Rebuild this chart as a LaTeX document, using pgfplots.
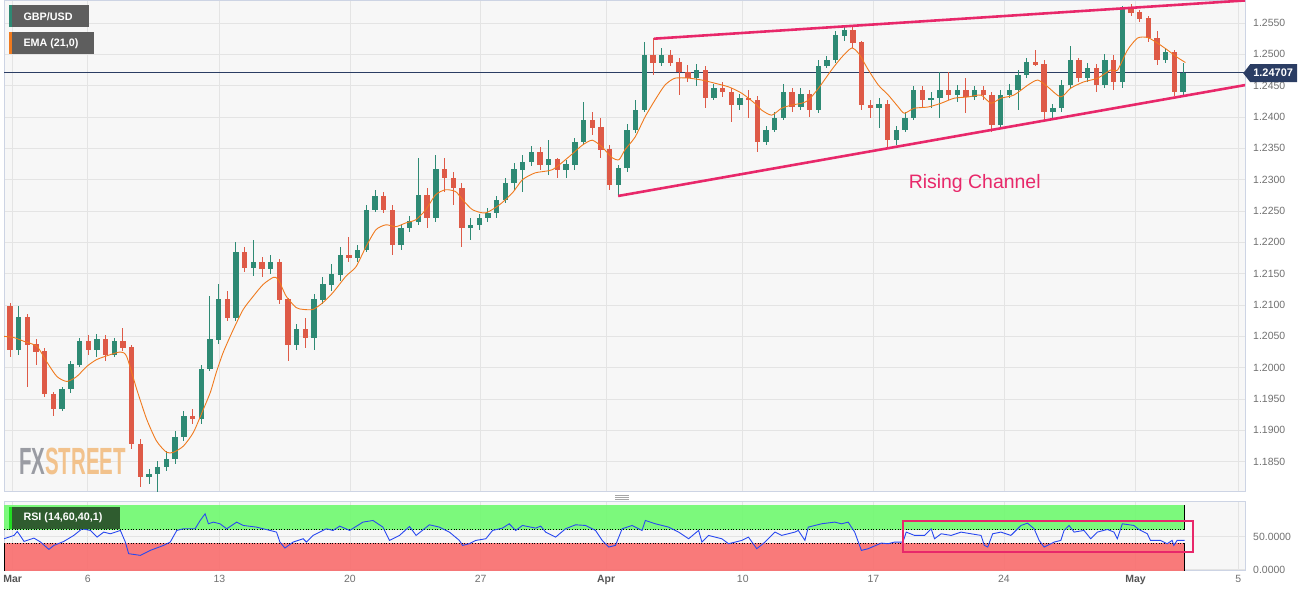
\documentclass[border=0pt]{standalone}
\usepackage{fontspec}
\setmainfont{Liberation Sans}
\usepackage{pgfplots}
\usepackage{pgfplotstable}
\pgfplotsset{compat=1.18}

\definecolor{bgpanel}{HTML}{F7F7F7}
\definecolor{gridc}{HTML}{E4E4E4}
\definecolor{framec}{HTML}{CDD4E4}
\definecolor{upc}{HTML}{2E8A74}
\definecolor{dnc}{HTML}{DE5A47}
\definecolor{emac}{HTML}{F07A1E}
\definecolor{chanc}{HTML}{E8286A}
\definecolor{navyc}{HTML}{2B3D63}
\definecolor{tickc}{HTML}{707070}
\definecolor{tickb}{HTML}{555555}
\definecolor{boxc}{HTML}{5E5E5E}
\definecolor{rsigreen}{HTML}{6FFA6F}
\definecolor{rsired}{HTML}{FA6D6D}
\definecolor{rsiline}{HTML}{2848F0}
\definecolor{rsibox}{HTML}{2F5C2F}
\definecolor{rsistrip}{HTML}{22DD22}
\definecolor{fxgray}{HTML}{9A9CA3}
\definecolor{fxorange}{HTML}{F2C28C}

% bar index k, open, high, low, close (GBP/USD)
\pgfplotstableread{
k o h l c
0 1.2098 1.2104 1.2017 1.2029
1 1.2029 1.2098 1.2021 1.2080
2 1.2080 1.2085 1.1969 1.2037
3 1.2037 1.2045 1.2005 1.2026
4 1.2026 1.2032 1.1953 1.1958
5 1.1958 1.1962 1.1923 1.1934
6 1.1934 1.1969 1.1931 1.1966
7 1.1966 1.2010 1.1959 1.2005
8 1.2005 1.2048 1.2001 1.2042
9 1.2042 1.2052 1.2020 1.2029
10 1.2029 1.2053 1.2017 1.2045
11 1.2045 1.2052 1.2010 1.2021
12 1.2021 1.2048 1.2017 1.2042
13 1.2042 1.2064 1.2026 1.2032
14 1.2032 1.2037 1.1870 1.1878
15 1.1878 1.1886 1.1810 1.1826
16 1.1826 1.1838 1.1815 1.1830
17 1.1830 1.1851 1.1802 1.1842
18 1.1842 1.1867 1.1835 1.1854
19 1.1854 1.1899 1.1846 1.1889
20 1.1889 1.1931 1.1883 1.1923
21 1.1923 1.1934 1.1910 1.1918
22 1.1918 1.2005 1.1910 1.1998
23 1.1998 1.2114 1.1994 1.2045
24 1.2045 1.2133 1.2037 1.2109
25 1.2109 1.2122 1.2074 1.2080
26 1.2080 1.2200 1.2074 1.2185
27 1.2185 1.2193 1.2153 1.2160
28 1.2160 1.2204 1.2147 1.2169
29 1.2169 1.2176 1.2144 1.2157
30 1.2157 1.2180 1.2149 1.2168
31 1.2168 1.2173 1.2101 1.2109
32 1.2109 1.2112 1.2010 1.2037
33 1.2037 1.2069 1.2029 1.2061
34 1.2061 1.2080 1.2032 1.2048
35 1.2048 1.2117 1.2029 1.2109
36 1.2109 1.2144 1.2101 1.2133
37 1.2133 1.2165 1.2122 1.2149
38 1.2149 1.2192 1.2138 1.2180
39 1.2180 1.2209 1.2169 1.2176
40 1.2176 1.2196 1.2169 1.2188
41 1.2188 1.2260 1.2185 1.2252
42 1.2252 1.2284 1.2249 1.2273
43 1.2273 1.2281 1.2247 1.2252
44 1.2252 1.2260 1.2180 1.2196
45 1.2196 1.2230 1.2188 1.2223
46 1.2223 1.2242 1.2217 1.2233
47 1.2233 1.2335 1.2228 1.2276
48 1.2276 1.2287 1.2223 1.2239
49 1.2239 1.2340 1.2233 1.2316
50 1.2316 1.2335 1.2281 1.2303
51 1.2303 1.2313 1.2260 1.2287
52 1.2287 1.2295 1.2192 1.2223
53 1.2223 1.2239 1.2204 1.2228
54 1.2228 1.2246 1.2220 1.2239
55 1.2239 1.2255 1.2233 1.2247
56 1.2247 1.2274 1.2239 1.2268
57 1.2268 1.2303 1.2262 1.2295
58 1.2295 1.2327 1.2284 1.2316
59 1.2316 1.2340 1.2281 1.2328
60 1.2328 1.2354 1.2322 1.2344
61 1.2344 1.2352 1.2316 1.2324
62 1.2324 1.2363 1.2308 1.2332
63 1.2332 1.2335 1.2303 1.2316
64 1.2316 1.2332 1.2303 1.2324
65 1.2324 1.2367 1.2316 1.2360
66 1.2360 1.2424 1.2355 1.2395
67 1.2395 1.2408 1.2371 1.2383
68 1.2383 1.2398 1.2335 1.2348
69 1.2348 1.2355 1.2284 1.2292
70 1.2292 1.2324 1.2274 1.2319
71 1.2319 1.2389 1.2313 1.2379
72 1.2379 1.2427 1.2375 1.2411
73 1.2411 1.2519 1.2408 1.2499
74 1.2499 1.2526 1.2467 1.2487
75 1.2487 1.2510 1.2481 1.2499
76 1.2499 1.2507 1.2481 1.2487
77 1.2487 1.2494 1.2435 1.2472
78 1.2472 1.2483 1.2456 1.2462
79 1.2462 1.2484 1.2450 1.2475
80 1.2475 1.2481 1.2414 1.2430
81 1.2430 1.2453 1.2427 1.2446
82 1.2446 1.2456 1.2432 1.2440
83 1.2440 1.2446 1.2392 1.2419
84 1.2419 1.2437 1.2411 1.2430
85 1.2430 1.2443 1.2398 1.2427
86 1.2427 1.2434 1.2344 1.2360
87 1.2360 1.2386 1.2355 1.2379
88 1.2379 1.2408 1.2376 1.2398
89 1.2398 1.2453 1.2395 1.2440
90 1.2440 1.2446 1.2408 1.2416
91 1.2416 1.2446 1.2411 1.2437
92 1.2437 1.2443 1.2400 1.2411
93 1.2411 1.2491 1.2406 1.2481
94 1.2481 1.2497 1.2478 1.2491
95 1.2491 1.2538 1.2487 1.2530
96 1.2530 1.2545 1.2522 1.2538
97 1.2538 1.2545 1.2510 1.2519
98 1.2519 1.2522 1.2411 1.2419
99 1.2419 1.2427 1.2398 1.2414
100 1.2414 1.2430 1.2383 1.2421
101 1.2421 1.2427 1.2352 1.2363
102 1.2363 1.2386 1.2355 1.2379
103 1.2379 1.2408 1.2376 1.2398
104 1.2398 1.2450 1.2395 1.2443
105 1.2443 1.2450 1.2414 1.2427
106 1.2427 1.2440 1.2414 1.2430
107 1.2430 1.2472 1.2398 1.2443
108 1.2443 1.2472 1.2427 1.2435
109 1.2435 1.2451 1.2424 1.2443
110 1.2443 1.2462 1.2406 1.2432
111 1.2432 1.2450 1.2427 1.2443
112 1.2443 1.2450 1.2427 1.2435
113 1.2435 1.2440 1.2376 1.2387
114 1.2387 1.2443 1.2383 1.2435
115 1.2435 1.2453 1.2430 1.2443
116 1.2443 1.2475 1.2411 1.2467
117 1.2467 1.2494 1.2462 1.2487
118 1.2487 1.2507 1.2481 1.2484
119 1.2484 1.2491 1.2392 1.2408
120 1.2408 1.2421 1.2395 1.2414
121 1.2414 1.2459 1.2408 1.2451
122 1.2451 1.2514 1.2446 1.2491
123 1.2491 1.2494 1.2456 1.2462
124 1.2462 1.2487 1.2456 1.2478
125 1.2478 1.2484 1.2440 1.2451
126 1.2451 1.2500 1.2446 1.2491
127 1.2491 1.2499 1.2443 1.2456
128 1.2456 1.2577 1.2446 1.2573
129 1.2573 1.2580 1.2561 1.2567
130 1.2567 1.2570 1.2551 1.2557
131 1.2557 1.2561 1.2519 1.2526
132 1.2526 1.2538 1.2483 1.2491
133 1.2491 1.2510 1.2486 1.2503
134 1.2503 1.2507 1.2433 1.2440
135 1.2440 1.2486 1.2435 1.24707
}\candles

% EMA(21)
\pgfplotstableread{
k v
-0.69 1.2050
0.46 1.2048
1.61 1.2042
3.10 1.2034
4.24 1.2009
5.39 1.1986
6.54 1.1978
7.69 1.1986
8.83 1.2002
9.98 1.2013
11.59 1.2021
12.73 1.2025
13.42 1.2018
14.57 1.1966
15.72 1.1918
16.86 1.1883
18.01 1.1865
18.81 1.1865
19.96 1.1875
21.11 1.1897
22.26 1.1934
23.06 1.1961
23.75 1.1993
24.55 1.2025
25.70 1.2061
26.84 1.2093
27.99 1.2114
29.14 1.2133
30.29 1.2144
30.86 1.2141
31.78 1.2114
32.92 1.2096
33.73 1.2093
34.87 1.2093
36.02 1.2104
37.17 1.2120
38.66 1.2146
39.81 1.2161
40.96 1.2193
42.10 1.2220
43.25 1.2228
44.40 1.2225
45.54 1.2231
46.69 1.2236
47.84 1.2252
48.98 1.2276
50.13 1.2284
51.28 1.2281
52.08 1.2268
53.23 1.2252
54.72 1.2247
56.33 1.2260
57.82 1.2279
58.97 1.2300
60.46 1.2311
62.41 1.2316
64.36 1.2337
65.85 1.2355
67.00 1.2363
68.14 1.2352
69.29 1.2335
70.09 1.2332
70.78 1.2348
71.93 1.2368
73.07 1.2400
74.22 1.2427
75.37 1.2451
76.52 1.2462
78.12 1.2462
79.61 1.2459
81.10 1.2454
82.71 1.2448
84.20 1.2438
85.69 1.2422
86.50 1.2411
87.65 1.2403
88.79 1.2414
89.94 1.2419
91.09 1.2422
91.89 1.2427
93.04 1.2446
94.53 1.2475
95.68 1.2495
96.83 1.2510
97.63 1.2502
98.78 1.2475
99.92 1.2451
101.07 1.2435
102.22 1.2416
102.91 1.2406
104.05 1.2414
105.66 1.2416
107.15 1.2422
108.64 1.2430
110.25 1.2432
111.74 1.2435
112.88 1.2422
114.03 1.2430
115.52 1.2435
117.13 1.2451
118.27 1.2459
119.42 1.2448
120.91 1.2432
122.06 1.2446
123.55 1.2456
125.16 1.2462
126.65 1.2475
127.45 1.2475
128.60 1.2507
129.75 1.2526
130.89 1.2527
132.04 1.2518
133.19 1.2507
134.34 1.2495
135.26 1.2487
}\ema

% RSI(14)
\pgfplotstableread{
k r
-0.69 46.5
0.46 51.5
0.84 57.5
1.61 42.5
2.75 47.5
3.52 41.5
4.47 30.5
5.05 36.5
6.19 42.5
7.34 51.5
8.29 61.5
9.26 59
10.02 49
10.78 56.5
11.55 54
12.70 59
13.27 41.5
13.65 24
14.99 21.5
16.14 29
17.67 36.5
18.44 41.5
19.19 59
19.96 61.5
21.30 61.5
21.88 74
22.45 84
22.83 69
23.40 71.5
24.17 69
24.93 61.5
26.08 71.5
26.84 66.5
28.37 64
29.91 59
30.67 56.5
31.06 41.5
31.63 32.5
32.58 41.5
33.73 46.5
34.11 41.5
34.88 51.5
36.40 61.5
37.17 59
37.94 65.5
39.09 59
40.61 71.5
41.76 74
42.91 64
43.67 44
44.82 51.5
45.97 65
46.73 51.5
48.26 67.5
49.41 64
49.79 61.5
50.56 56.5
51.71 44
52.08 36.5
52.85 39
53.61 44
54.76 46.5
55.53 59
56.67 62.5
57.44 69
58.20 59
58.97 66.5
60.49 62.5
61.07 65.5
61.64 56.5
62.79 49
63.93 61.5
65.08 67.5
66.23 66.5
67.38 59
68.14 44
68.91 34
69.67 36.5
70.44 61.5
71.59 66.5
72.73 59
73.11 74
74.26 69
75.80 64
76.94 56.5
78.09 46.5
79.24 59
79.62 41.5
80.38 51.5
81.91 46.5
82.68 39
84.21 44
84.97 49
85.93 31.5
86.88 41.5
88.03 56.5
88.79 51.5
90.32 56.5
90.71 59
91.47 44
91.86 64
93.38 69
94.91 71.5
95.68 69
96.45 71.5
97.20 56.5
97.97 29
98.74 31.5
100.27 40
101.04 39
101.79 41.5
102.76 41.5
103.13 56.5
104.09 51.5
105.24 51.5
106.00 61.5
106.39 46.5
107.15 54
108.30 51.5
109.44 56.5
110.59 54
111.74 51.5
112.12 36.5
112.51 34
113.08 54
114.03 56.5
115.18 51.5
116.33 66.5
117.09 70
117.85 61.5
118.43 44
119.00 34
120.15 41.5
120.92 44
121.30 59
121.87 66.5
122.45 56.5
123.59 59
124.36 46.5
125.13 56.5
126.28 60.5
127.04 56.5
127.42 46.5
128.00 69
129.33 66.5
129.90 60.5
130.87 54
131.24 44
132.39 44
133.16 39
133.73 44
133.92 36.5
134.31 44
135.18 44
}\rsi

\pgfplotsset{
  panel/.style={
    scale only axis, width=1245pt,
    xmin=-0.69, xmax=142.14,
    axis background/.style={fill=bgpanel},
    axis line style={framec, line width=0.8pt},
    grid=major, grid style={gridc, line width=0.8pt},
    tick style={draw=none},
    xtick={0.3,8.95,24.09,39.12,54.15,68.6,84.32,99.35,114.37,129.52,141.33},
    yticklabel pos=right,
    ticklabel style={font=\fontsize{10.5}{12}\selectfont, text=tickc},
    yticklabel style={xshift=4.5pt, /pgf/number format/fixed,
      /pgf/number format/fixed zerofill, /pgf/number format/precision=4,
      /pgf/number format/assume math mode=true},
    scaled y ticks=false,
  },
  candle/.style args={#1/#2}{only marks, mark size=0pt,
    mark options={draw opacity=0, fill opacity=0}, forget plot,
    error bars/.cd, y dir=both, y explicit, error mark=none,
    error bar style={#1, line width=#2}},
}

\begin{document}
\begin{tikzpicture}
\fill[white] (0pt,0pt) rectangle (1315pt,-598pt);

% price panel
\begin{axis}[panel, at={(0pt,0pt)}, anchor=north west, height=493pt,
  ymin=1.18018, ymax=1.25861,
  ytick={1.185,1.19,1.195,1.2,1.205,1.21,1.215,1.22,1.225,1.23,1.235,1.24,1.245,1.25,1.255},
  xticklabels={}]
\addplot[navyc, line width=0.8pt, forget plot] coordinates {(-0.69,1.24707) (142.14,1.24707)};
% wicks
\addplot[candle={upc/1pt}] table[x=k,
  y expr={\thisrow{c}>=\thisrow{o} ? 0.5*(\thisrow{h}+\thisrow{l}) : nan},
  y error expr={0.5*(\thisrow{h}-\thisrow{l})}] {\candles};
\addplot[candle={dnc/1pt}] table[x=k,
  y expr={\thisrow{c}<\thisrow{o} ? 0.5*(\thisrow{h}+\thisrow{l}) : nan},
  y error expr={0.5*(\thisrow{h}-\thisrow{l})}] {\candles};
% bodies
\addplot[candle={upc/5.4pt}] table[x=k,
  y expr={\thisrow{c}>=\thisrow{o} ? 0.5*(\thisrow{o}+\thisrow{c}) : nan},
  y error expr={0.5*abs(\thisrow{c}-\thisrow{o})+0.00003}] {\candles};
\addplot[candle={dnc/5.4pt}] table[x=k,
  y expr={\thisrow{c}<\thisrow{o} ? 0.5*(\thisrow{o}+\thisrow{c}) : nan},
  y error expr={0.5*abs(\thisrow{c}-\thisrow{o})+0.00003}] {\candles};
% EMA
\addplot[emac, line width=0.9pt, smooth, tension=0.4] table[x=k, y=v] {\ema};
% rising channel
\addplot[chanc, line width=2.6pt] coordinates {(74.1,1.2525) (142.14,1.2586)};
\addplot[chanc, line width=2.6pt] coordinates {(69.98,1.2274) (142.14,1.2451)};
\end{axis}

% RSI panel
\begin{axis}[panel, at={(0pt,-503pt)}, anchor=north west, height=69pt,
  ymin=-1.5, ymax=102, ytick={0,50},
  xticklabels={\textbf{\textcolor{tickb}{Mar}},6,13,20,27,\textbf{\textcolor{tickb}{Apr}},10,17,24,\textbf{\textcolor{tickb}{May}},5},
  xticklabel style={yshift=-1pt}]
\addplot[fill=rsigreen, fill opacity=0.9, draw=none] coordinates {(-0.69,60) (135.18,60) (135.18,98) (-0.69,98)} -- cycle;
\addplot[fill=rsired, fill opacity=0.9, draw=none] coordinates {(-0.69,-1.5) (135.18,-1.5) (135.18,40) (-0.69,40)} -- cycle;
\addplot[black, dotted, line width=0.7pt] coordinates {(-0.69,60) (135.18,60)};
\addplot[black, dotted, line width=0.7pt] coordinates {(-0.69,40) (135.18,40)};
\addplot[black, line width=0.8pt] coordinates {(135.18,60) (135.18,98)};
\addplot[black, line width=0.8pt] coordinates {(135.18,-1.5) (135.18,40)};
\addplot[black, line width=0.8pt] coordinates {(-0.6,-1.5) (-0.6,40)};
\addplot[rsiline, line width=0.9pt] table[x=k, y=r] {\rsi};
\end{axis}

% annotations
\draw[chanc, line width=2pt] (902pt,-522pt) rectangle (1193pt,-553pt);
\node[text=chanc, font=\fontsize{19.5}{22}\selectfont, anchor=west] at (904pt,-184pt) {Rising Channel};

\node[anchor=west, inner sep=0pt] at (15pt,-462pt) {\scalebox{0.54}[1]{\fontsize{38}{40}\selectfont\bfseries\textcolor{fxgray}{FX}\textcolor{fxorange}{STREET}}};

\fill[boxc] (5pt,-5pt) rectangle (85pt,-27pt);
\fill[upc] (5pt,-5pt) rectangle (7.5pt,-27pt);
\node[anchor=west, text=white, font=\fontsize{10.8}{12}\selectfont\bfseries] at (16pt,-16pt) {GBP/USD};
\fill[boxc] (5pt,-32pt) rectangle (90pt,-54pt);
\fill[emac] (5pt,-32pt) rectangle (7.5pt,-54pt);
\node[anchor=west, text=white, font=\fontsize{10.8}{12}\selectfont\bfseries] at (16pt,-43pt) {EMA (21,0)};

\fill[rsibox] (5pt,-508pt) rectangle (116pt,-530pt);
\fill[rsistrip] (5pt,-508pt) rectangle (8pt,-530pt);
\node[anchor=west, text=white, font=\fontsize{10.8}{12}\selectfont\bfseries] at (16pt,-519pt) {RSI (14,60,40,1)};

\fill[navyc] (1243pt,-73pt) -- (1250pt,-64pt) -- (1297pt,-64pt) -- (1297pt,-82pt) -- (1250pt,-82pt) -- cycle;
\node[text=white, font=\fontsize{11}{12}\selectfont\bfseries] at (1273pt,-73pt) {1.24707};

\draw[gray!70, line width=0.6pt] (613pt,-496pt) -- (627pt,-496pt)
  (613pt,-498pt) -- (627pt,-498pt) (613pt,-500pt) -- (627pt,-500pt);
\end{tikzpicture}
\end{document}
